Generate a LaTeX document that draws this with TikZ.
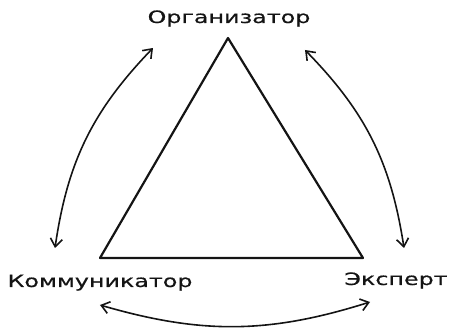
\documentclass[tikz,border=0pt]{standalone}
\usepackage{fontspec}
\usetikzlibrary{positioning, calc, arrows.meta, bending}
\usepackage{xcolor}
\newfontfamily\handfont[FakeStretch=1.4, FakeBold=0.6]{DejaVu Sans}
\definecolor{ink}{RGB}{20, 20, 20}
\tikzset{
  role/.style={font=\handfont\fontsize{17}{17}\selectfont, text=ink,
               inner sep=0pt, anchor=base},
  edge/.style={draw=ink, line width=2.2pt, line join=round},
  swap/.style={draw=ink, line width=1.6pt,
               {Straight Barb[length=8pt, width=12pt, bend]}-{Straight Barb[length=8pt, width=12pt, bend]}}
}

\begin{document}
\begin{tikzpicture}[x=1pt, y=1pt]
    \useasboundingbox (0,0) rectangle (451,334);

    %% ── triangle ─────────────────────────────────────────────
    \coordinate (top)   at (228,296);
    \coordinate (left)  at (100,76);
    \coordinate (right) at (363,76);
    \draw[edge] (top) -- (left) -- (right) -- cycle;

    %% ── role labels ──────────────────────────────────────────
    \node[role] (org)  at (229,311) {Организатор};
    \node[role] (komm) at (100,47)  {Коммуникатор};
    \node[role] (exp)  at (396,49)  {Эксперт};

    %% ── arrow ends ───────────────────────────────────────────
    \coordinate (kommUp)  at (55,86);
    \coordinate (orgLeft) at (153,286);
    \coordinate (orgRight) at (305,284);
    \coordinate (expUp)   at (404,86);
    \coordinate (expDown) at (370,32);
    \coordinate (kommDown) at (100,29);

    %% ── arrows between roles ─────────────────────────────────
    \draw[swap] (kommUp) to[bend left=18] (orgLeft);
    \draw[swap] (orgRight) to[bend left=18] (expUp);
    \draw[swap] (expDown) to[bend left=17] (kommDown);

\end{tikzpicture}
\end{document}
